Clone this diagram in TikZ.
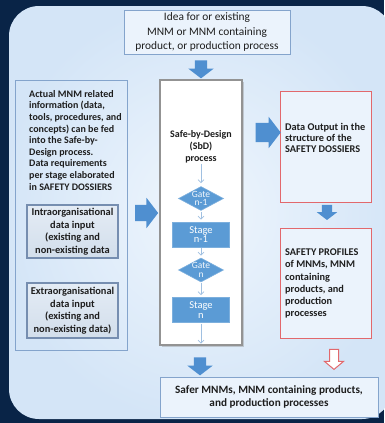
\documentclass[tikz,border=0pt]{standalone}
\usepackage{fontspec}
\setmainfont{Carlito}
\usetikzlibrary{shapes.geometric,shapes.arrows,arrows.meta,shadows}

\definecolor{navy}{RGB}{9,36,71}
\definecolor{panelin}{RGB}{239,246,253}
\definecolor{panelout}{RGB}{212,229,247}
\definecolor{boxline}{RGB}{132,164,204}
\definecolor{boxfill}{RGB}{235,243,252}
\definecolor{redline}{RGB}{226,104,108}
\definecolor{stepblue}{RGB}{91,155,213}
\definecolor{arrowblue}{RGB}{79,143,208}
\definecolor{thinline}{RGB}{160,192,225}
\definecolor{innerline}{RGB}{118,142,176}
\definecolor{innertop}{RGB}{228,236,245}
\definecolor{innerbot}{RGB}{210,222,235}
\definecolor{textdark}{RGB}{30,30,30}

\tikzset{
  bluebox/.style={draw=boxline, line width=1pt, fill=boxfill, inner sep=0pt,
    align=center, text=textdark},
  redbox/.style={draw=redline, line width=1pt, fill=boxfill, inner sep=0pt},
  innerbox/.style={draw=innerline, line width=1.1pt, top color=innertop,
    bottom color=innerbot, inner sep=0pt, align=center, text=textdark,
    drop shadow={shadow xshift=1.2pt, shadow yshift=-1.2pt, opacity=0.35}},
  processbox/.style={draw=gray!85, line width=1.1pt, fill=white, inner sep=0pt,
    drop shadow={shadow xshift=1.5pt, shadow yshift=-1.5pt, opacity=0.35}},
  stagebox/.style={fill=stepblue, draw=stepblue!80!white, line width=0.6pt,
    inner sep=0pt, minimum width=57pt, minimum height=25pt, align=center,
    text=white, font=\fontsize{10.5}{9.5}\selectfont},
  gatebox/.style={diamond, fill=stepblue, draw=stepblue!80!white, line width=0.6pt,
    inner sep=0pt, minimum width=45pt, minimum height=24pt},
  gatetext/.style={align=center, text=white!92!stepblue,
    font=\fontsize{9.5}{8.5}\selectfont},
  thinarrow/.style={draw=thinline, line width=0.7pt,
    -{Straight Barb[length=3pt,width=6pt]}},
  blockarrow/.style={single arrow, fill=arrowblue, inner xsep=0pt,
    single arrow tip angle=105},
  hollowarrow/.style={single arrow, draw=redline, line width=1pt, fill=white,
    inner xsep=0pt, single arrow tip angle=100},
  bodytext/.style={inner sep=0pt, align=left, text=textdark}
}

\begin{document}
\begin{tikzpicture}[x=1pt, y=-1pt]
  \useasboundingbox (0,0) rectangle (384,423);
  % dark surround and light rounded panel
  \fill[navy] (0,0) rectangle (384,423);
  \begin{scope}
    \clip[rounded corners=30pt] (9,6) rectangle (392,419);
    \shade[inner color=panelin, outer color=panelout] (0,0) rectangle (400,423);
  \end{scope}

  % starting point
  \node[bluebox, minimum width=166pt, minimum height=44pt,
        font=\fontsize{11.4}{14.5}\selectfont] (idea) at (207,32)
    {Idea for or existing\\MNM or MNM containing\\product, or production process};

  % data input column
  \node[bluebox, fill=none, minimum width=112pt, minimum height=270pt] (inputs) at (71,215) {};
  \node[bodytext, anchor=north west, font=\bfseries\fontsize{10}{11.6}\selectfont]
    (inputtext) at (29,90)
    {Actual MNM related\\information (data,\\tools, procedures, and\\concepts) can be fed\\into the Safe-by-\\Design process.\\Data requirements\\per stage elaborated\\in SAFETY DOSSIERS};
  \node[innerbox, minimum width=91pt, minimum height=53pt,
        font=\bfseries\fontsize{10.4}{12.5}\selectfont] (intra) at (72.5,231.5)
    {Intraorganisational\\data input\\(existing and\\non-existing data};
  \node[innerbox, minimum width=91pt, minimum height=55pt,
        font=\bfseries\fontsize{10.4}{12.5}\selectfont] (extra) at (72.5,310.5)
    {Extraorganisational\\data input\\(existing and\\non-existing data)};

  % Safe-by-Design process column
  \node[processbox, minimum width=82pt, minimum height=265pt] (sbdbox) at (201,212.5) {};
  \node[inner sep=0pt, align=center, text=textdark,
        font=\bfseries\fontsize{10}{12}\selectfont] (sbd) at (201,147)
    {Safe-by-Design\\(SbD)\\process};
  \node[gatebox, label={[gatetext]center:Gate\\n-1}] (gate1) at (201,198.5) {};
  \node[stagebox] (stage1) at (201,234.5) {Stage\\n-1};
  \node[gatebox, label={[gatetext]center:Gate\\n}] (gate2) at (201,270) {};
  \node[stagebox] (stage2) at (201,310) {Stage\\n};
  \coordinate (sbdend) at (201,343.5);

  \draw[thinarrow, shorten <=1pt, shorten >=3pt] (sbd.south) -- (gate1.north);
  \draw[thinarrow, shorten <=1pt, shorten >=2pt] (gate1.south) -- (stage1.north);
  \draw[thinarrow, shorten <=1pt, shorten >=2pt] (stage1.south) -- (gate2.north);
  \draw[thinarrow, shorten <=1pt, shorten >=2pt] (gate2.south) -- (stage2.north);
  \draw[thinarrow, shorten <=1pt] (stage2.south) -- (sbdend);

  % outputs column
  \node[redbox, minimum width=91pt, minimum height=111pt] (output) at (325.5,146.5) {};
  \node[bodytext, anchor=north west, font=\bfseries\fontsize{10.3}{11}\selectfont]
    (outputtext) at (285,123.5)
    {Data Output in the\\structure of the\\SAFETY DOSSIERS};
  \node[redbox, minimum width=91pt, minimum height=110pt] (profiles) at (325.5,283) {};
  \node[bodytext, anchor=north west, font=\bfseries\fontsize{10.3}{12.3}\selectfont]
    (profilestext) at (285,248.5)
    {SAFETY PROFILES\\of MNMs, MNM\\containing\\products, and\\production\\processes};

  % final result
  \node[bluebox, minimum width=218pt, minimum height=40pt,
        font=\bfseries\fontsize{11.2}{13}\selectfont,
        drop shadow={shadow xshift=1.2pt, shadow yshift=-1.2pt, opacity=0.25}]
    (safer) at (269,397)
    {Safer MNMs, MNM containing products,\\and production processes};

  % block arrows between the boxes
  \node[blockarrow, rotate=-90, minimum height=18pt, inner ysep=6pt,
        single arrow head extend=6.5pt] (toprocess) at (201,67) {};
  \node[blockarrow, minimum height=23pt, inner ysep=8pt,
        single arrow head extend=7pt] (feedin) at (143.5,213) {};
  \node[blockarrow, minimum height=25pt, inner ysep=9.5pt,
        single arrow head extend=6pt] (feedout) at (264.5,132.5) {};
  \node[blockarrow, rotate=-90, minimum height=15pt, inner ysep=5pt,
        single arrow head extend=5pt] (toprofiles) at (327,210.5) {};
  \node[blockarrow, rotate=-90, minimum height=18pt, inner ysep=6pt,
        single arrow head extend=6.5pt] (tosafer) at (200,364) {};
  \node[hollowarrow, rotate=-90, minimum height=20pt, inner ysep=4pt,
        single arrow head extend=5pt] (fromprofiles) at (334,357.5) {};
\end{tikzpicture}
\end{document}
